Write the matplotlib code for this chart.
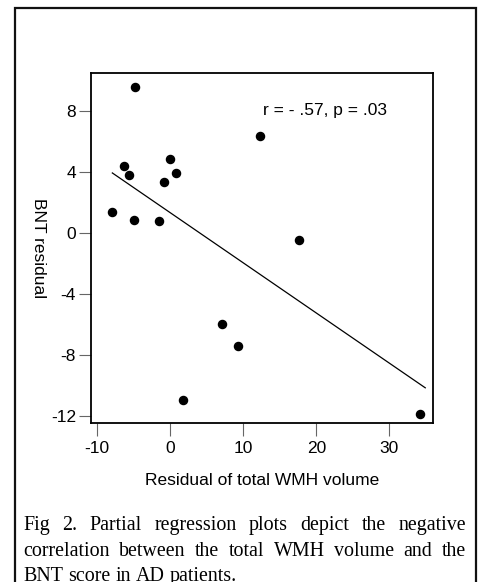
import numpy as np
import matplotlib
matplotlib.use("Agg")
import matplotlib.pyplot as plt
from matplotlib.patches import Rectangle

# residuals
wmh_resid = [-4.74, 12.24, -6.24, -5.62, -0.05, 0.82, -0.78, -7.88, -4.88,
             -1.46, 17.62, 7.14, 9.24, 1.78, 34.15]
bnt_resid = [9.61, 6.38, 4.43, 3.82, 4.85, 3.93, 3.38, 1.40, 0.89,
             0.81, -0.42, -5.95, -7.41, -10.93, -11.87]

# fitted line end points
fit_x = [-7.9, 34.9]
fit_y = [3.95, -10.15]

x_ticks = [-10, 0, 10, 20, 30]
y_ticks = [-12, -8, -4, 0, 4, 8]
stat_text = "r = - .57, p = .03"
caption = ["Fig 2. Partial regression plots depict the negative",
           "correlation between the total WMH volume and the",
           "BNT score in AD patients."]

W, H = 482, 582
plt.rcParams["font.family"] = ["Liberation Sans", "DejaVu Sans"]
plt.rcParams["axes.unicode_minus"] = False
fig = plt.figure(figsize=(W / 100, H / 100), dpi=100)

# outer frame
fig.patches.append(Rectangle((15 / W, -0.05), 461 / W, 1.05 - 8 / H,
                             transform=fig.transFigure, fill=False,
                             lw=1.6, edgecolor="#111111"))

ax = fig.add_axes([90.7 / W, 1 - 423 / H, 342.6 / W, 349.7 / H])
ax.scatter(wmh_resid, bnt_resid, s=34, color="black", zorder=3)
ax.plot(fit_x, fit_y, color="black", lw=0.9)

ax.set_xlim(-10.86, 36.0)
ax.set_ylim(-12.46, 10.49)
ax.set_xticks(x_ticks)
ax.set_yticks(y_ticks)
ax.tick_params(direction="out", length=9, width=0.8, color="#666666",
               labelsize=12.5, pad=1.5)
ax.tick_params(axis="x", pad=4)
for s in ax.spines.values():
    s.set_linewidth(1.3)

ax.set_xlabel("Residual of total WMH volume", fontsize=12.5, labelpad=12)
ax.set_ylabel("BNT residual", fontsize=12.5, rotation=270, labelpad=22)
ax.yaxis.set_label_coords(-0.175, 0.5)
ax.text(0.685, 0.895, stat_text, transform=ax.transAxes, fontsize=12.5,
        ha="center", va="center")

# justified caption
left, right = 23, 466
baselines = [530, 556, 581]
fig.canvas.draw()
rend = fig.canvas.get_renderer()
for i, line in enumerate(caption):
    words = line.split(" ")
    texts = [fig.text(0, 1 - baselines[i] / H, w, family="Liberation Serif",
                      fontsize=14.4, va="baseline", ha="left") for w in words]
    widths = [t.get_window_extent(rend).width for t in texts]
    if i < len(caption) - 1:
        gap = (right - left - sum(widths)) / (len(words) - 1)
    else:
        sp = fig.text(0, 0, "a a", family="Liberation Serif", fontsize=14.4)
        sp2 = fig.text(0, 0, "aa", family="Liberation Serif", fontsize=14.4)
        gap = sp.get_window_extent(rend).width - sp2.get_window_extent(rend).width
        sp.remove()
        sp2.remove()
    xpos = left
    for t, w in zip(texts, widths):
        t.set_x(xpos / W)
        xpos += w + gap

fig.savefig("out.png", dpi=100)
